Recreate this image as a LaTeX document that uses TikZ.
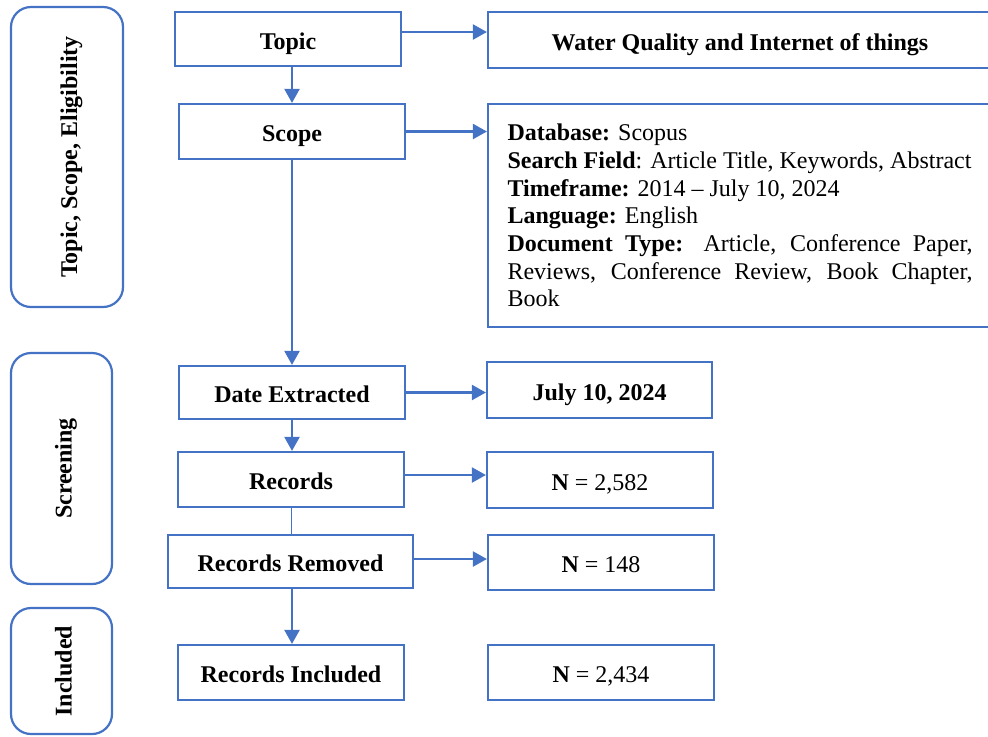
\documentclass[tikz,border=0pt]{standalone}
\usepackage{fontspec}
\setmainfont{Liberation Serif}
\usetikzlibrary{arrows.meta}
\definecolor{boxblue}{HTML}{4472C4}
\begin{document}
\begin{tikzpicture}[x=0.5pt,y=-0.5pt,
    frame/.style={draw=boxblue,line width=1.1pt,inner sep=0pt},
    box/.style={frame,minimum width=113pt,minimum height=27.5pt,text height=10pt,text depth=0pt,font=\fontsize{12}{14}\selectfont\bfseries},
    nbox/.style={box,font=\fontsize{12}{14}\selectfont},
    stage/.style={frame,rounded corners=10pt,rotate=90,text height=10pt,text depth=0pt,font=\fontsize{12}{14}\selectfont\bfseries},
    arr/.style={draw=boxblue,line width=1.1pt,-{Triangle[length=7pt,width=7.5pt]}}]
    	\useasboundingbox (0,0) rectangle (988,736);
    	%stage boxes on the left
    	\node[stage,minimum width=150pt,minimum height=56pt] (stgtopic) at (67,157) {Topic, Scope, Eligibility};
    	\node[stage,minimum width=115.5pt,minimum height=50.5pt] (stgscreen) at (61.5,468.5) {Screening};
    	\node[stage,minimum width=63pt,minimum height=50.5pt] (stgincl) at (61.5,671) {Included};
    	%middle column
    	\node[box,minimum height=27pt] (topic) at (288,39) {Topic};
    	\node[box] (scope) at (292,131.5) {Scope};
    	\node[box,minimum height=26.5pt] (date) at (292,392.5) {Date Extracted};
    	\node[box] (rec) at (291,479.5) {Records};
    	\node[box,minimum width=122.5pt,minimum height=26.5pt] (rem) at (290.5,561.5) {Records Removed};
    	\node[box] (incl) at (291,672.5) {Records Included};
    	%right column
    	\node[box,minimum width=252pt,minimum height=28pt] (water) at (740,40) {Water Quality and Internet of things};
    	\node[frame,minimum width=252pt,minimum height=111.5pt,font=\fontsize{12}{13.85}\selectfont] (db) at (740,215.5) {\parbox{232.5pt}{%
    		\textbf{Database:} Scopus\\
    		\textbf{Search Field}: Article Title, Keywords, Abstract\\
    		\textbf{Timeframe:} 2014 -- July 10, 2024\\
    		\textbf{Language:} English\\
    		\textbf{Document Type:} Article, Conference Paper,\linebreak Reviews, Conference Review, Book Chapter,\linebreak Book}};
    	\node[box,minimum width=112.5pt,minimum height=28pt] (july) at (599.5,390) {July 10, 2024};
    	\node[nbox,minimum height=28pt] (nrec) at (600,480) {\textbf{N} = 2,582};
    	\node[nbox] (nrem) at (601,562.5) {\textbf{N} = 148};
    	\node[nbox] (nincl) at (601,672.5) {\textbf{N} = 2,434};
    	%arrows to the right
    	\draw[arr] ([yshift=3.5pt]topic.east) -- ([yshift=3.5pt]topic.east -| water.west);
    	\draw[arr] (scope.east) -- (scope.east -| db.west);
    	\draw[arr] (date.east) -- (date.east -| july.west);
    	\draw[arr] ([yshift=2.25pt]rec.east) -- ([yshift=2.25pt]rec.east -| nrec.west);
    	\draw[arr] ([yshift=1.25pt]rem.east) -- ([yshift=1.25pt]rem.east -| nrem.west);
    	%arrows down the middle
    	\draw[arr] (scope.north |- topic.south) -- (scope.north);
    	\draw[arr] (scope.south) -- (date.north);
    	\draw[arr] (date.south) -- (date.south |- rec.north);
    	\draw[boxblue,line width=0.5pt] (rec.south) -- (rec.south |- rem.north);
    	\draw[arr] (rem.south -| date.south) -- (date.south |- incl.north);
\end{tikzpicture}
\end{document}
